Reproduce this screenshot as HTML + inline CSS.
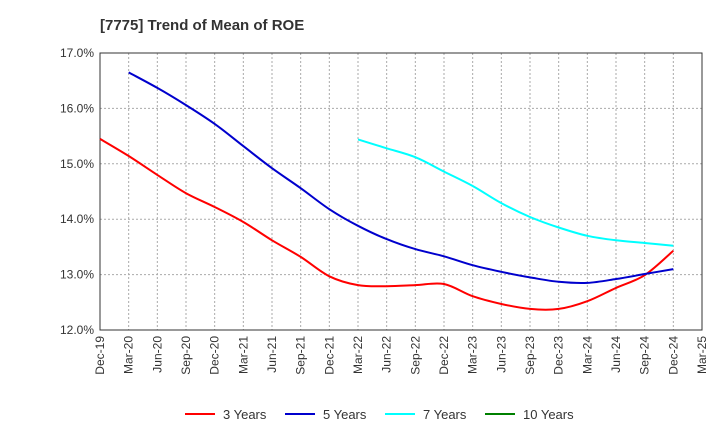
<!DOCTYPE html>
<html><head><meta charset="utf-8"><style>
body{margin:0;background:#fff;font-family:"Liberation Sans",sans-serif;}
</style></head><body>
<svg id="chart" width="720" height="440" xmlns="http://www.w3.org/2000/svg">
<text x="100" y="30" font-size="15" font-weight="bold" fill="#333">[7775]  Trend of Mean of ROE</text>
<g id="grid"></g><g id="axes"></g><g id="series"></g><g id="legend"></g>
</svg>
<script>
const categories=["Dec-19","Mar-20","Jun-20","Sep-20","Dec-20","Mar-21","Jun-21","Sep-21","Dec-21","Mar-22","Jun-22","Sep-22","Dec-22","Mar-23","Jun-23","Sep-23","Dec-23","Mar-24","Jun-24","Sep-24","Dec-24","Mar-25"];
const yTicks=[12,13,14,15,16,17];
const y3=[15.45,15.14,14.8,14.47,14.22,13.95,13.62,13.32,12.97,12.81,12.79,12.81,12.83,12.61,12.47,12.38,12.38,12.52,12.76,12.99,13.43];
const y5=[null,16.65,16.37,16.06,15.72,15.32,14.92,14.56,14.18,13.88,13.64,13.46,13.33,13.17,13.05,12.95,12.87,12.85,12.92,13.01,13.1];
const y7=[null,null,null,null,null,null,null,null,null,15.44,15.28,15.12,14.86,14.6,14.29,14.04,13.85,13.7,13.62,13.57,13.52];
const y10=[];
const seriesNames=["3 Years","5 Years","7 Years","10 Years"];
const colors=["#ff0000","#0000cd","#00ffff","#008000"];
const X0=100,X1=702,Y0=330,Y1=53;
const xs=i=>X0+(X1-X0)*i/(categories.length-1);
const ys=v=>Y0-(v-12)/(17-12)*(Y0-Y1);
const NS="http://www.w3.org/2000/svg";
function mk(parent,tag,attrs){const e=document.createElementNS(NS,tag);for(const k in attrs)e.setAttribute(k,attrs[k]);document.getElementById(parent).appendChild(e);return e;}
function smooth(p){let d='M'+p[0][0]+','+p[0][1];for(let i=0;i<p.length-1;i++){const a=p[i-1]||p[i],b=p[i],c=p[i+1],e=p[i+2]||c;
const c1=[b[0]+(c[0]-a[0])/6,b[1]+(c[1]-a[1])/6],c2=[c[0]-(e[0]-b[0])/6,c[1]-(e[1]-b[1])/6];
d+=` C${c1[0].toFixed(1)},${c1[1].toFixed(1)} ${c2[0].toFixed(1)},${c2[1].toFixed(1)} ${c[0].toFixed(1)},${c[1].toFixed(1)}`;}return d;}
yTicks.forEach(t=>{
  const l=mk('grid','line',{x1:X0,x2:X1,y1:ys(t),y2:ys(t),stroke:'#aaa','stroke-dasharray':'2,2'});
  
  
  const tx=mk('axes','text',{x:X0-6,y:ys(t)+4,'text-anchor':'end','font-size':12,fill:'#333'});
  tx.textContent=t.toFixed(1)+'%';
  
  
});
categories.forEach((c,i)=>{
  if(i>0&&i<categories.length-1){const l=mk('grid','line',{x1:xs(i),x2:xs(i),y1:Y1,y2:Y0,stroke:'#aaa','stroke-dasharray':'2,2'});
  
  }
  const tx=mk('axes','text',{x:0,y:0,'text-anchor':'end','font-size':12,fill:'#333',transform:`translate(${xs(i)+4},${Y0+6}) rotate(-90)`});
  tx.textContent=c;
  
  
});
const fr=mk('axes','rect',{x:X0,y:Y1,width:X1-X0,height:Y0-Y1,fill:'none',stroke:'#333'});


[y3,y5,y7,y10].forEach((arr,si)=>{
  const pts=[];arr.forEach((v,i)=>{if(v!=null)pts.push([xs(i),ys(v)]);});
  if(pts.length){const p=mk('series','path',{d:smooth(pts),fill:'none',stroke:colors[si],'stroke-width':2,'stroke-linejoin':'round'});
  
  }
  const lx=185+si*100;
  const ll=mk('legend','line',{x1:lx,x2:lx+30,y1:414,y2:414,stroke:colors[si],'stroke-width':2});
  
  
  const lt=mk('legend','text',{x:lx+38,y:419,'font-size':13,fill:'#333'});
  lt.textContent=seriesNames[si];
  
  
});
</script>
</body></html>
